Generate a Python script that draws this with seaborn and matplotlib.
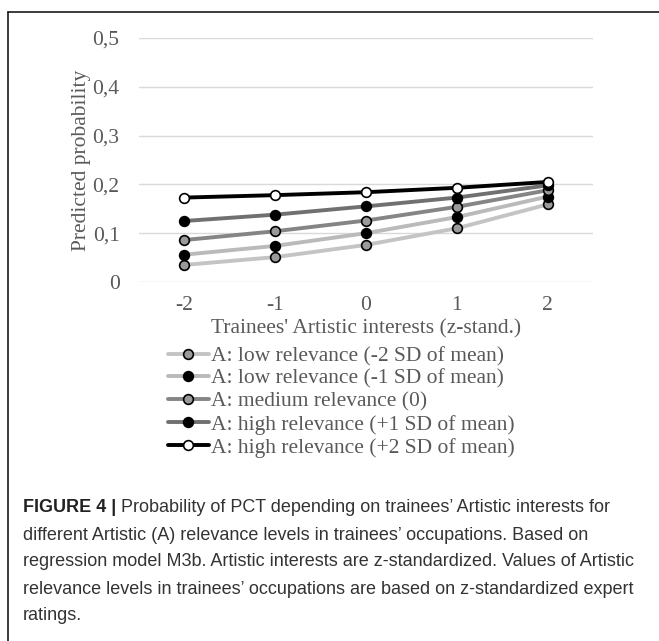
import matplotlib
matplotlib.use("Agg")
import matplotlib.pyplot as plt
import seaborn as sns
import pandas as pd
from matplotlib.lines import Line2D

# x values: trainees' Artistic interests (z-standardized)
interests = [-2, -1, 0, 1, 2]

# predicted probability per relevance level
low_2sd = [0.035, 0.051, 0.076, 0.110, 0.159]
low_1sd = [0.056, 0.074, 0.100, 0.133, 0.175]
medium = [0.086, 0.104, 0.126, 0.154, 0.188]
high_1sd = [0.125, 0.138, 0.155, 0.173, 0.198]
high_2sd = [0.173, 0.178, 0.184, 0.193, 0.205]

series_labels = [
    "A: low relevance (-2 SD of mean)",
    "A: low relevance (-1 SD of mean)",
    "A: medium relevance (0)",
    "A: high relevance (+1 SD of mean)",
    "A: high relevance (+2 SD of mean)",
]
line_colors = ["#c4c4c4", "#bababa", "#858585", "#707070", "#000000"]
marker_fills = ["#9a9a9a", "#000000", "#9a9a9a", "#000000", "#ffffff"]

y_ticks = [0, 0.1, 0.2, 0.3, 0.4, 0.5]
y_tick_labels = ["0", "0,1", "0,2", "0,3", "0,4", "0,5"]

caption_lines = [
    "Probability of PCT depending on trainees\u2019 Artistic interests for",
    "different Artistic (A) relevance levels in trainees\u2019 occupations. Based on",
    "regression model M3b. Artistic interests are z-standardized. Values of Artistic",
    "relevance levels in trainees\u2019 occupations are based on z-standardized expert",
    "ratings.",
]

df = pd.DataFrame({
    "x": interests * 5,
    "y": low_2sd + low_1sd + medium + high_1sd + high_2sd,
    "level": [lab for lab in series_labels for _ in interests],
})

sns.set_style("white")
plt.rcParams["font.family"] = ["Liberation Serif", "DejaVu Serif"]
axis_grey = "#595959"
fs = 15.5

W, H = 659, 641
fig = plt.figure(figsize=(W / 100, H / 100), dpi=100)
ax = fig.add_axes([139 / W, 1 - 282 / H, (593 - 139) / W, (282 - 38) / H])

for lab, lc, mf in zip(series_labels, line_colors, marker_fills):
    sub = df[df["level"] == lab]
    sns.lineplot(data=sub, x="x", y="y", ax=ax, color=lc, lw=2.8,
                 marker="o", markersize=7, markerfacecolor=mf,
                 markeredgecolor="black", markeredgewidth=1.2,
                 label=lab, legend=False)

ax.set_xlim(-2.5, 2.5)
ax.set_ylim(0, 0.5)
ax.set_xticks(interests)
ax.set_xticklabels([str(v) for v in interests])
ax.set_yticks(y_ticks)
ax.set_yticklabels(y_tick_labels)
ax.tick_params(length=0, labelsize=fs, colors=axis_grey)
ax.tick_params(axis="x", pad=10)
ax.tick_params(axis="y", pad=14)
ax.yaxis.grid(True, color="#d9d9d9", lw=1)
ax.set_axisbelow(True)
for s in ax.spines.values():
    s.set_visible(False)
ax.set_xlabel("Trainees' Artistic interests (z-stand.)", fontsize=fs,
              color=axis_grey, labelpad=3)
ax.set_ylabel("Predicted probability", fontsize=fs, color=axis_grey,
              labelpad=1)

handles, labels = ax.get_legend_handles_labels()
leg = fig.legend(handles, labels, loc="upper left",
                 bbox_to_anchor=(168 / W, 1 - 346 / H), frameon=False,
                 fontsize=fs, handlelength=1.9, handletextpad=0.1,
                 labelspacing=0.13, borderpad=0, borderaxespad=0)
for t in leg.get_texts():
    t.set_color(axis_grey)

# frame lines (top and left only visible in the crop)
fig.add_artist(Line2D([8 / W, 1], [1 - 12 / H, 1 - 12 / H],
                      transform=fig.transFigure, color="#1a1a1a", lw=1.2))
fig.add_artist(Line2D([8 / W, 8 / W], [1 - 12 / H, 0],
                      transform=fig.transFigure, color="#1a1a1a", lw=1.2))

# caption
cap_font = ["Liberation Sans", "DejaVu Sans"]
cap_color = "#333333"
cap_fs = 13
fig.canvas.draw()
renderer = fig.canvas.get_renderer()
x0 = 23 / W
line_y = [508, 535, 562, 589, 616]
bold = fig.text(x0, 1 - line_y[0] / H, "FIGURE 4 | ", family=cap_font,
                fontsize=cap_fs, weight="bold", color="#222222", va="center")
bw = bold.get_window_extent(renderer).width / W
for i, (txt, yy) in enumerate(zip(caption_lines, line_y)):
    xx = x0 + bw if i == 0 else x0
    fig.text(xx, 1 - yy / H, txt, family=cap_font, fontsize=cap_fs,
             color=cap_color, va="center")

fig.savefig("out.png", dpi=100)
